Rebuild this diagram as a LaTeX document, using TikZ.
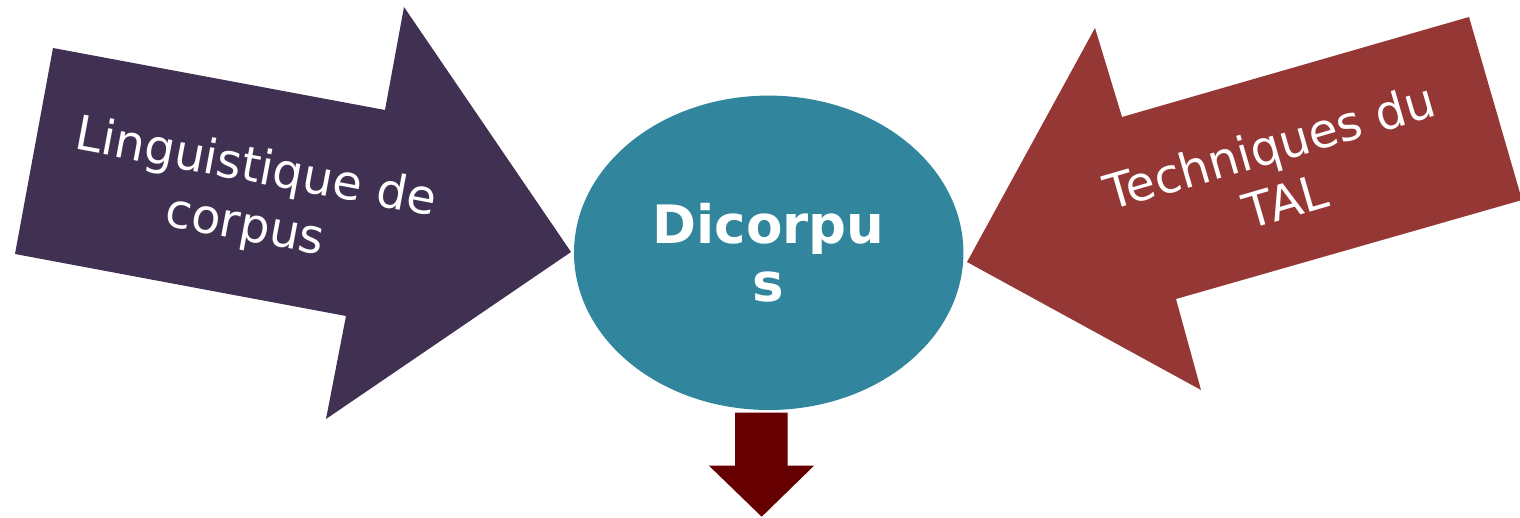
\documentclass[tikz,border=0pt]{standalone}
\usepackage{fontspec}
\setmainfont{DejaVu Sans}
\usetikzlibrary{shapes.geometric}
\definecolor{lingpurple}{HTML}{403152}
\definecolor{talred}{HTML}{953735}
\definecolor{dicteal}{HTML}{31859C}
\definecolor{downred}{HTML}{660000}
\tikzset{
  arrowtext/.style={text=white, align=center, inner sep=0pt},
}
\begin{document}
\begin{tikzpicture}[x=1pt,y=-1pt]
\useasboundingbox (0,0) rectangle (1520,518);
% left arrow
\fill[lingpurple] (53,48) -- (385,110) -- (404,7) -- (571,252) -- (326,419) -- (346,316) -- (15,254) -- cycle;
\node[arrowtext, rotate=-10.6, font=\fontsize{47.8}{58.8}\selectfont] (ling) at (250.2,198.3) {Linguistique de\\corpus};
% right arrow
\begin{scope}
\clip (0,0) rectangle (1520,518);
\fill[talred] (1469,17) -- (1522,200) -- (1176,299) -- (1201,390) -- (967,262) -- (1095,28) -- (1122,117) -- cycle;
\end{scope}
\node[arrowtext, rotate=16.2, font=\fontsize{47.8}{57}\selectfont] (tal) at (1277.5,172.9) {Techniques du\\TAL};
% central ellipse
\node[ellipse, fill=dicteal, minimum width=389.4pt, minimum height=314.4pt, inner sep=0pt,
      text=white, align=center, font=\fontsize{53}{58.4}\selectfont\bfseries] (dic) at (768.7,252.8) {Dicorpu\\s};
% down arrow
\fill[downred] (735,412.7) -- (787.7,412.7) -- (787.7,465.7) -- (814,465.7) -- (761.7,516.7) -- (709,465.7) -- (735,465.7) -- cycle;
\end{tikzpicture}
\end{document}
